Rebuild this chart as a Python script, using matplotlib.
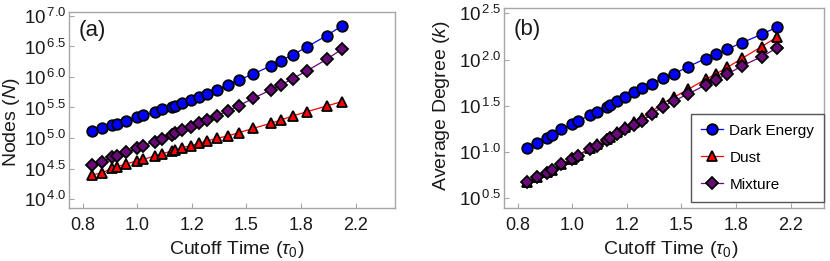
import numpy as np
import matplotlib
matplotlib.use("Agg")
import matplotlib.pyplot as plt
from matplotlib.ticker import FixedLocator, FixedFormatter, NullLocator

plt.rcParams['font.family'] = ['Liberation Sans', 'DejaVu Sans']
plt.rcParams['mathtext.fontset'] = 'custom'
plt.rcParams['mathtext.rm'] = 'Liberation Sans'
plt.rcParams['mathtext.it'] = 'Liberation Sans:italic'
plt.rcParams['mathtext.sf'] = 'Liberation Sans'

# ---- data ----
cutoff = [0.829, 0.861, 0.891, 0.907, 0.941, 0.979, 1.001, 1.045, 1.072, 1.112,
          1.126, 1.158, 1.193, 1.231, 1.269, 1.314, 1.369, 1.427, 1.505, 1.605,
          1.668, 1.741, 1.839, 1.976, 2.089]

# log10 of number of nodes
nodes_dark = [5.120, 5.169, 5.208, 5.235, 5.284, 5.339, 5.372, 5.421, 5.470, 5.514,
              5.525, 5.579, 5.628, 5.678, 5.721, 5.787, 5.869, 5.951, 6.049, 6.180,
              6.268, 6.361, 6.497, 6.678, 6.836]
nodes_dust = [4.393, 4.432, 4.503, 4.530, 4.574, 4.628, 4.650, 4.705, 4.738, 4.787,
              4.803, 4.842, 4.874, 4.913, 4.951, 4.995, 5.033, 5.087, 5.158, 5.240,
              5.295, 5.361, 5.432, 5.525, 5.596]
nodes_mix = [4.557, 4.612, 4.683, 4.710, 4.765, 4.831, 4.874, 4.940, 4.984, 5.049,
             5.077, 5.131, 5.186, 5.240, 5.295, 5.366, 5.443, 5.530, 5.650, 5.787,
             5.869, 5.973, 6.104, 6.290, 6.454]

# log10 of average degree
deg_dark = [1.048, 1.102, 1.156, 1.181, 1.246, 1.300, 1.336, 1.397, 1.437, 1.491,
            1.509, 1.556, 1.599, 1.646, 1.689, 1.736, 1.797, 1.844, 1.923, 2.010,
            2.060, 2.114, 2.183, 2.273, 2.349]
deg_dust = [0.680, 0.734, 0.781, 0.806, 0.871, 0.929, 0.968, 1.041, 1.084, 1.145,
            1.167, 1.217, 1.268, 1.322, 1.372, 1.437, 1.527, 1.592, 1.678, 1.786,
            1.844, 1.916, 2.014, 2.140, 2.241]
deg_mix = [0.680, 0.734, 0.777, 0.803, 0.868, 0.922, 0.961, 1.030, 1.069, 1.127,
           1.152, 1.195, 1.246, 1.296, 1.340, 1.408, 1.491, 1.552, 1.628, 1.725,
           1.779, 1.844, 1.931, 2.032, 2.122]

x_ticks = [0.8, 0.979, 1.198, 1.466, 1.795, 2.2]
x_tick_labels = ["0.8", "1.0", "1.2", "1.5", "1.8", "2.2"]
ya_ticks = [4.0, 4.5, 5.0, 5.5, 6.0, 6.5, 7.0]
yb_ticks = [0.5, 1.0, 1.5, 2.0, 2.5]
series_names = ["Dark Energy", "Dust", "Mixture"]

# ---- style ----
colors = ["#0000ff", "#ff0000", "#6a0a7a"]
markers = ["o", "^", "D"]
msizes = [7.6, 7.8, 6.4]
spine_col = "#a6a6a6"
txt = '#1a1a1a'

fig = plt.figure(figsize=(8.30, 2.61), dpi=100)
axa = fig.add_axes([0.0835, 0.2019, 0.3924, 0.7533])
axb = fig.add_axes([0.6076, 0.2019, 0.3855, 0.7663])


def style(ax, yticks, ylim, xmax):
    ax.set_xscale('log')
    ax.set_yscale('log')
    ax.set_xlim(0.7614, xmax)
    ax.set_ylim(10 ** ylim[0], 10 ** ylim[1])
    ax.xaxis.set_major_locator(FixedLocator(x_ticks))
    ax.xaxis.set_major_formatter(FixedFormatter(x_tick_labels))
    ax.xaxis.set_minor_locator(NullLocator())
    ax.yaxis.set_major_locator(FixedLocator([10 ** v for v in yticks]))
    ax.yaxis.set_major_formatter(FixedFormatter([r"$10^{\,%.1f}$" % v for v in yticks]))
    ax.yaxis.set_minor_locator(NullLocator())
    for s in ax.spines.values():
        s.set_color(spine_col)
        s.set_linewidth(1.0)
    ax.tick_params(axis='both', direction='in', length=3.5, width=0.8,
                   color=spine_col, labelcolor=txt)
    ax.tick_params(axis='x', pad=6, labelsize=13)
    ax.tick_params(axis='y', pad=2, labelsize=13.5)


def draw(ax, ys):
    for y, c, m, ms, name in zip(ys, colors, markers, msizes, series_names):
        ax.plot(cutoff, [10 ** v for v in y], '-', color=c, lw=0.9,
                marker=m, ms=ms, mfc=c, mec='black', mew=1.3, label=name)


draw(axa, [nodes_dark, nodes_dust, nodes_mix])
style(axa, ya_ticks, (3.848, 7.07), 2.545)
axa.set_xlabel(r"Cutoff Time ($\tau_0$)", fontsize=14, color=txt)
axa.xaxis.set_label_coords(0.515, -0.154)
axa.set_ylabel(r"Nodes ($N$)", fontsize=14, color=txt)
axa.yaxis.set_label_coords(-0.145, 0.44)
axa.text(0.03, 0.96, "(a)", transform=axa.transAxes, fontsize=16,
         ha='left', va='top', color=txt)

draw(axb, [deg_dark, deg_dust, deg_mix])
style(axb, yb_ticks, (0.392, 2.554), 2.492)
axb.set_xlabel(r"Cutoff Time ($\tau_0$)", fontsize=14, color=txt)
axb.xaxis.set_label_coords(0.52, -0.1515)
axb.set_ylabel(r"Average Degree ($k$)", fontsize=14, color=txt)
axb.yaxis.set_label_coords(-0.165, 0.516)
axb.text(0.028, 0.945, "(b)", transform=axb.transAxes, fontsize=16,
         ha='left', va='top', color=txt)

leg = axb.legend(loc='lower right', bbox_to_anchor=(1.0, 0.033), fontsize=11,
                 frameon=True, fancybox=False, framealpha=1, edgecolor='#555555',
                 handlelength=1.45, handletextpad=0.4, borderpad=0.65,
                 labelspacing=0.85, borderaxespad=0.0)
leg.get_frame().set_linewidth(1.0)

fig.savefig("out.png", dpi=100)
